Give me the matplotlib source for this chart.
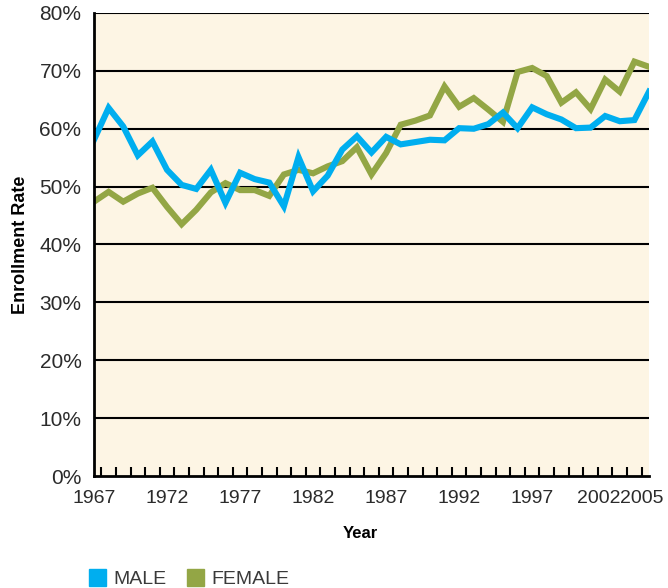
import matplotlib
matplotlib.use("Agg")
import matplotlib.pyplot as plt
from matplotlib.patches import Rectangle
from matplotlib.transforms import ScaledTranslation
import numpy as np

years = list(range(1967, 2006))
male = [58.1, 63.6, 60.4, 55.4, 57.8, 52.9, 50.3, 49.6, 52.9, 47.2,
        52.4, 51.3, 50.7, 46.6, 55.1, 49.2, 51.9, 56.4, 58.7, 55.9,
        58.6, 57.3, 57.7, 58.1, 58.0, 60.1, 60.0, 60.8, 62.8, 60.1,
        63.7, 62.5, 61.6, 60.1, 60.2, 62.2, 61.3, 61.5, 66.4]
female = [47.4, 49.1, 47.4, 48.8, 49.8, 46.5, 43.5, 46.0, 49.0, 50.6,
          49.4, 49.4, 48.4, 52.1, 52.9, 52.3, 53.5, 54.4, 56.8, 52.1,
          55.8, 60.7, 61.4, 62.3, 67.3, 63.8, 65.3, 63.3, 61.2, 69.8,
          70.5, 69.1, 64.5, 66.3, 63.4, 68.5, 66.4, 71.6, 70.7]
yticks = [0, 10, 20, 30, 40, 50, 60, 70, 80]
xlabels = [1967, 1972, 1977, 1982, 1987, 1992, 1997, 2002, 2005]
series_names = ["MALE", "FEMALE"]

blue = "#00AEEF"
green = "#93A645"
bg = "#FDF5E4"
txt = "#2b2b2b"

plt.rcParams['font.family'] = ['Liberation Sans', 'DejaVu Sans']

fig = plt.figure(figsize=(6.68, 5.88), dpi=100)
ax = fig.add_axes([94/668, 1-476/588, (649-94)/668, (476-13)/588])
ax.set_facecolor(bg)

ax.set_xlim(1967, 2005)
ax.set_ylim(0, 80)

for v in yticks[1:]:
    ax.axhline(v, color="black", lw=1.5, zorder=1)

ax.plot(years, female, color=green, lw=4.4, zorder=3, solid_joinstyle='miter')
ax.plot(years, male, color=blue, lw=4.4, zorder=4, solid_joinstyle='miter')

for s in ["top", "right"]:
    ax.spines[s].set_visible(False)
for s in ["left", "bottom"]:
    ax.spines[s].set_linewidth(2.0)
    ax.spines[s].set_color("black")
    ax.spines[s].set_zorder(5)

ax.set_yticks(yticks)
ax.set_yticklabels([f"{v}%" for v in yticks])
ax.tick_params(axis='y', length=0, pad=9, labelsize=15, labelcolor=txt)

ax.set_xticks(xlabels)
ax.set_xticklabels([str(v) for v in xlabels])
ax.set_xticks(np.arange(1967.5, 2005, 1.0), minor=True)
ax.tick_params(axis='x', which='major', length=0, pad=10, labelsize=14, labelcolor=txt)
ax.tick_params(axis='x', which='minor', direction='in', length=6.5, width=1.5, color='black')
xtl = ax.get_xticklabels()
for lab, dx in [(xtl[-2], -6), (xtl[-1], -7)]:
    lab.set_transform(lab.get_transform() + ScaledTranslation(dx/100, 0, fig.dpi_scale_trans))

fig.text(21/668, 1-245/588, "Enrollment Rate", rotation=90, ha='center', va='center',
         fontsize=13, fontweight='bold', color='black')
fig.text(360/668, 1-534/588, "Year", ha='center', va='center',
         fontsize=12, fontweight='bold', color='black')

# legend
for (x0, name, col) in [(89, series_names[0], blue), (187, series_names[1], green)]:
    fig.patches.append(Rectangle((x0/668, 1-586/588), 17/668, 17/588,
                                 transform=fig.transFigure, color=col))
    fig.text((x0+24)/668, 1-579/588, name, ha='left', va='center',
             fontsize=14, color="#3a3a3a")

fig.savefig("out.png", dpi=100)
